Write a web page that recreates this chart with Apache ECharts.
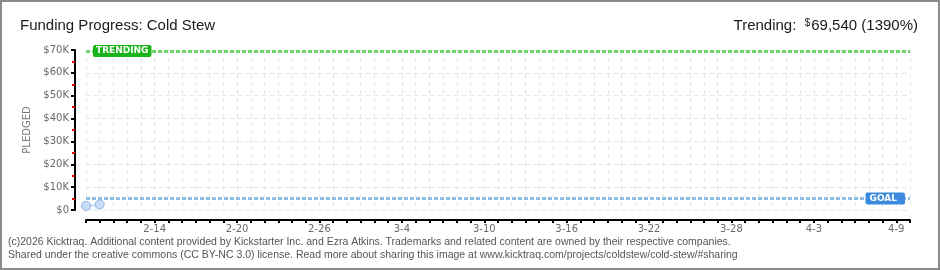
<!DOCTYPE html>
<html><head><meta charset="utf-8">
<script src="https://cdn.jsdelivr.net/npm/echarts@6/dist/echarts.min.js"></script>
<style>html,body{margin:0;padding:0;background:#fff}#c{width:940px;height:270px}</style>
</head><body><div id="c"></div>
<script>
const days = ['2-9','2-10','2-11','2-12','2-13','2-14','2-15','2-16','2-17','2-18','2-19','2-20','2-21','2-22','2-23','2-24','2-25','2-26','2-27','2-28',
'3-1','3-2','3-3','3-4','3-5','3-6','3-7','3-8','3-9','3-10','3-11','3-12','3-13','3-14','3-15','3-16','3-17','3-18','3-19','3-20','3-21','3-22','3-23','3-24','3-25','3-26','3-27','3-28','3-29','3-30','3-31',
'4-1','4-2','4-3','4-4','4-5','4-6','4-7','4-8','4-9','4-10'];
const shownLabels = ['2-14','2-20','2-26','3-4','3-10','3-16','3-22','3-28','4-3','4-9'];
const pledged = [1800, 2400];
const trending = 69540;
const goal = 5000;
const yTicks = [0, 10000, 20000, 30000, 40000, 50000, 60000, 70000];
const titleText = 'Funding Progress: Cold Stew';
const footer1 = '(c)2026 Kicktraq. Additional content provided by Kickstarter Inc. and Ezra Atkins. Trademarks and related content are owned by their respective companies.';
const footer2 = 'Shared under the creative commons (CC BY-NC 3.0) license. Read more about sharing this image at www.kicktraq.com/projects/coldstew/cold-stew/#sharing';

const chart = echarts.init(document.getElementById('c'), null, {renderer: 'canvas'});
const lblFont = 'DejaVu Sans';
const option = {
  animation: false,
  title: [
    {text: titleText, left: 15, top: 13, textStyle: {fontFamily: 'Liberation Sans', fontSize: 15, fontWeight: 'normal', color: '#1a1a1a'}},
    {text: '{l|Trending:  }{s|$}{l|69,540 (1390%)}', right: 17, top: 13,
     textStyle: {fontWeight: 'normal', rich: {
       l: {fontFamily: 'Liberation Sans', fontSize: 15, fontWeight: 'normal', color: '#1a1a1a'},
       s: {fontFamily: 'Liberation Sans', fontSize: 10, fontWeight: 'normal', color: '#1a1a1a', verticalAlign: 'top', padding: [0, 1, 6, 0]}}}}
  ],
  graphic: [
    {type: 'rect', shape: {x: 1, y: 1, width: 938, height: 268}, style: {fill: 'none', stroke: '#8a8a8a', lineWidth: 2}, silent: true},
    {type: 'text', left: 8, top: 237, style: {text: footer1, font: '10.5px "Liberation Sans"', fill: '#555'}},
    {type: 'text', left: 8, top: 250, style: {text: footer2, font: '10.5px "Liberation Sans"', fill: '#555'}}
  ],
  grid: {left: 86, right: 30, top: 50, bottom: 60},
  xAxis: {
    type: 'category', data: days, boundaryGap: false, offset: 10,
    axisLine: {onZero: false, lineStyle: {color: '#000', width: 2}},
    axisTick: {interval: 0, length: 3, lineStyle: {color: '#000', width: 2}},
    axisLabel: {interval: 0, margin: 4, fontFamily: lblFont, fontSize: 10, color: '#6a6a6a',
      formatter: v => shownLabels.includes(v) ? v : ''},
    splitLine: {show: true, interval: 0, lineStyle: {color: '#e6e6e6', type: [4, 4]}}
  },
  yAxis: {
    type: 'value', min: 0, max: 70000, interval: 10000, offset: 11,
    name: 'PLEDGED', nameLocation: 'middle', nameGap: 34, nameRotate: 90,
    nameTextStyle: {fontFamily: lblFont, fontSize: 10, color: '#7a7a7a'},
    axisLine: {show: true, onZero: false, lineStyle: {color: '#000', width: 2}},
    axisTick: {show: true, length: 4, lineStyle: {color: '#000', width: 2}},
    minorTick: {show: true, splitNumber: 2, length: 3, lineStyle: {color: '#e00000', width: 2}},
    axisLabel: {margin: 6, fontFamily: lblFont, fontSize: 10, color: '#6a6a6a',
      formatter: v => yTicks.includes(v) ? (v === 0 ? '$0' : '$' + (v / 1000) + 'K') : ''},
    splitLine: {show: true, lineStyle: {color: '#e6e6e6', type: [5, 3]}}
  },
  series: [{
    type: 'line', data: pledged, symbol: 'circle', symbolSize: 9,
    itemStyle: {color: '#c8def6', borderColor: '#8fb4e2', borderWidth: 1},
    lineStyle: {color: '#a9c7ec', width: 1},
    areaStyle: {color: '#edf4fc'},
    markLine: {
      silent: true, symbol: 'none', animation: false,
      data: [
        {yAxis: trending, lineStyle: {color: '#6fd46f', width: 3, type: [4, 2]},
         label: {show: true, position: 'insideStart', distance: [7, 0], formatter: 'TRENDING',
           fontFamily: lblFont, fontSize: 9, fontWeight: 'bold', color: '#fff', backgroundColor: '#19b419',
           padding: [2, 3, 1, 3], borderRadius: 2}},
        {yAxis: goal, lineStyle: {color: '#93bbe8', width: 3, type: [4, 2]},
         label: {show: true, position: 'insideEnd', distance: [5, 0], formatter: 'GOAL',
           fontFamily: lblFont, fontSize: 9, fontWeight: 'bold', color: '#fff', backgroundColor: '#3b8ade',
           padding: [2, 8, 1, 4], borderRadius: 2}}
      ]
    }
  }]
};
chart.setOption(option);
</script></body></html>
